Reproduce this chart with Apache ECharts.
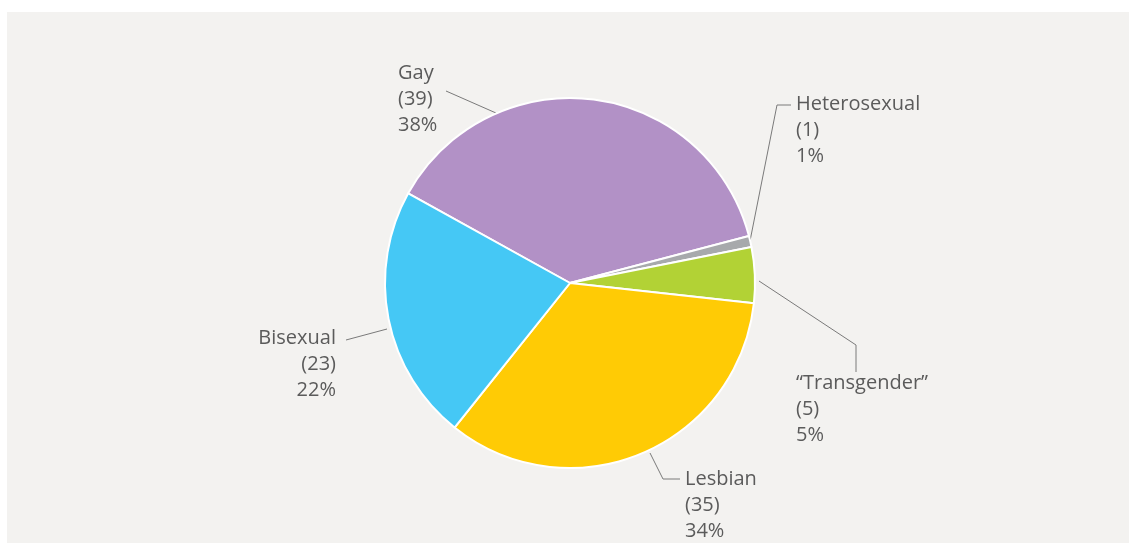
<!DOCTYPE html>
<html>
<head>
<meta charset="utf-8">
<script src="https://cdn.jsdelivr.net/npm/echarts@6/dist/echarts.min.js"></script>
<style>
  html, body { margin: 0; padding: 0; background: #fff; }
  #chart { width: 1129px; height: 543px; }
</style>
</head>
<body>
<div id="chart"></div>
<script>
const categories = ['Gay', 'Heterosexual', '“Transgender”', 'Lesbian', 'Bisexual'];
const counts = [39, 1, 5, 35, 23];
const colors = ['#b291c6', '#a7a9ac', '#b2d235', '#ffcb05', '#45c8f5'];

// label placement (left/right edge + top of first line) and leader line points
const labelSpots = [
  { x: 398, y: 60, align: 'left', line: [[496, 113], [446, 91], [446, 91]] },
  { x: 796, y: 91, align: 'left', line: [[750, 241], [777, 105], [791, 105]] },
  { x: 796, y: 370, align: 'left', line: [[759, 281], [856, 345], [856, 372]] },
  { x: 685, y: 466, align: 'left', line: [[650, 453], [663, 479], [680, 479]] },
  { x: 336, y: 325, align: 'right', line: [[387, 329], [346, 340], [346, 340]] },
];

const chart = echarts.init(document.getElementById('chart'));

const option = {
  animation: false,
  graphic: [
    {
      type: 'rect',
      z: -10,
      shape: { x: 7, y: 12, width: 1122, height: 531 },
      style: { fill: '#f3f2f0' },
    },
  ],
  series: [
    {
      type: 'pie',
      center: [570, 283],
      radius: [0, 185],
      startAngle: 151,
      percentPrecision: 0,
      itemStyle: { borderColor: '#fff', borderWidth: 2 },
      label: {
        show: true,
        formatter: '{b}\n({c})\n{d}%',
        fontFamily: 'Open Sans',
        fontSize: 20,
        lineHeight: 26,
        color: '#5b5b5b',
      },
      labelLine: {
        show: true,
        lineStyle: { color: '#7a7a7a', width: 1 },
      },
      labelLayout: function (params) {
        const s = labelSpots[params.dataIndex];
        return {
          x: s.x,
          y: s.y,
          align: s.align,
          verticalAlign: 'top',
          labelLinePoints: s.line,
        };
      },
      data: categories.map((name, i) => ({
        name: name,
        value: counts[i],
        itemStyle: { color: colors[i] },
      })),
    },
  ],
};

chart.setOption(option);
</script>
</body>
</html>
